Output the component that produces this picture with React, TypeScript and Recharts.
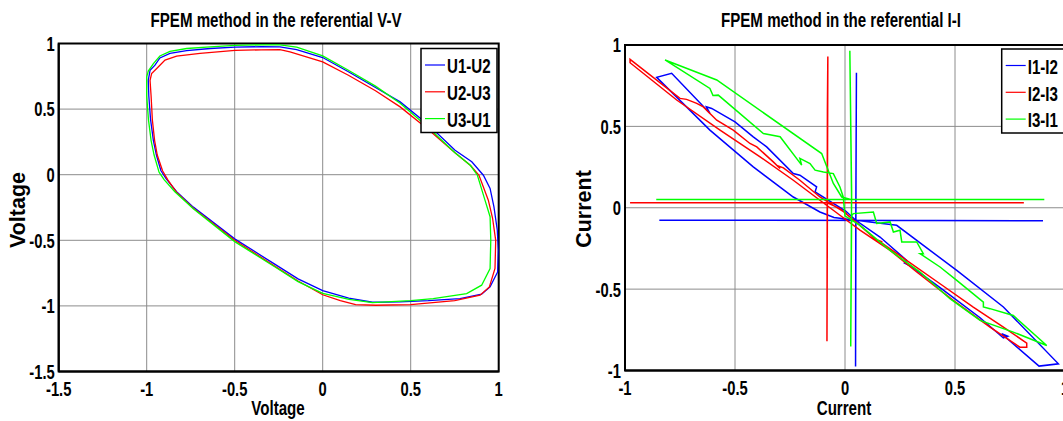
import React from 'react';
import { ScatterChart, Scatter, XAxis, YAxis, CartesianGrid, ReferenceArea } from 'recharts';

type Pt = [number, number];

// axis ticks
const vvTicks = [-1.5, -1, -0.5, 0, 0.5, 1];
const iiTicks = [-1, -0.5, 0, 0.5, 1];

// V-V plane, one closed loop per line voltage
const u1u2: Pt[] = [
  [-0.919, 0.03], [-0.945, 0.15], [-0.962, 0.26], [-0.978, 0.42], [-0.988, 0.6], [-0.991, 0.72],
  [-0.981, 0.796], [-0.953, 0.835], [-0.925, 0.89], [-0.868, 0.925], [-0.773, 0.946], [-0.64, 0.962],
  [-0.498, 0.972], [-0.35, 0.976], [-0.243, 0.974], [-0.148, 0.953], [0, 0.893], [0.146, 0.785],
  [0.3, 0.665], [0.44, 0.555], [0.6, 0.38], [0.752, 0.187], [0.847, 0.098], [0.913, -0.004],
  [0.951, -0.105], [0.973, -0.245], [0.992, -0.423], [0.998, -0.575], [0.994, -0.741], [0.951, -0.855],
  [0.903, -0.911], [0.78, -0.944], [0.6, -0.96], [0.44, -0.969], [0.283, -0.972], [0.148, -0.94],
  [0, -0.883], [-0.14, -0.794], [-0.275, -0.68], [-0.5, -0.489], [-0.735, -0.247], [-0.83, -0.13],
  [-0.89, -0.03], [-0.919, 0.03],
];

const u2u3: Pt[] = [
  [-0.91, 0.03], [-0.94, 0.15], [-0.955, 0.26], [-0.968, 0.42], [-0.975, 0.6], [-0.981, 0.72],
  [-0.972, 0.771], [-0.943, 0.809], [-0.896, 0.873], [-0.83, 0.903], [-0.697, 0.924], [-0.498, 0.947],
  [-0.35, 0.952], [-0.243, 0.953], [-0.186, 0.936], [0, 0.86], [0.146, 0.758], [0.3, 0.64],
  [0.44, 0.517], [0.6, 0.345], [0.75, 0.17], [0.84, 0.07], [0.888, -0.004], [0.941, -0.194],
  [0.965, -0.33], [0.983, -0.5], [0.979, -0.715], [0.947, -0.855], [0.894, -0.918], [0.75, -0.96],
  [0.5, -0.99], [0.3, -0.995], [0.187, -0.99], [0.1, -0.96], [0, -0.915], [-0.14, -0.81],
  [-0.275, -0.695], [-0.5, -0.5], [-0.735, -0.255], [-0.83, -0.135], [-0.88, -0.04], [-0.91, 0.03],
];

const u3u1: Pt[] = [
  [-0.93, 0.02], [-0.958, 0.15], [-0.975, 0.26], [-0.99, 0.42], [-1.0, 0.6], [-1.0, 0.745],
  [-0.991, 0.79], [-0.962, 0.847], [-0.925, 0.905], [-0.868, 0.94], [-0.773, 0.962], [-0.64, 0.975],
  [-0.498, 0.985], [-0.35, 0.99], [-0.243, 0.99], [-0.148, 0.972], [0, 0.906], [0.146, 0.796],
  [0.3, 0.675], [0.44, 0.545], [0.6, 0.36], [0.75, 0.17], [0.84, 0.07], [0.879, -0.004],
  [0.922, -0.194], [0.951, -0.32], [0.955, -0.5], [0.951, -0.715], [0.903, -0.842], [0.818, -0.906],
  [0.628, -0.944], [0.5, -0.96], [0.283, -0.975], [0.15, -0.95], [0, -0.905], [-0.14, -0.815],
  [-0.275, -0.7], [-0.5, -0.51], [-0.735, -0.26], [-0.84, -0.13], [-0.9, -0.04], [-0.93, 0.02],
];

// I-I plane
const i1i2: Pt[] = [
  [-0.844, -0.077], [0.3, -0.078], [0.9, -0.08], [0.049, -0.077],
  [0.052, 0.83], [0.05, 0.2], [0.048, -0.975], [0.049, -0.077],
  [0.235, -0.108], [0.508, -0.385], [0.72, -0.61], [0.97, -0.959], [0.882, -0.973], [0.712, -0.774],
  [0.74, -0.79], [0.72, -0.8], [0.614, -0.676], [0.432, -0.491], [0.3, -0.36], [0.27, -0.34],
  [0.28, -0.323], [0.159, -0.18], [0.049, -0.077],
  [0.003, -0.02], [-0.136, 0.097], [-0.129, 0.128], [-0.205, 0.2], [-0.235, 0.21], [-0.356, 0.374],
  [-0.417, 0.436], [-0.5, 0.528], [-0.606, 0.61], [-0.63, 0.62], [-0.614, 0.58], [-0.788, 0.826],
  [-0.856, 0.801], [-0.614, 0.477], [-0.417, 0.251], [-0.235, 0.066], [-0.114, -0.026],
  [-0.05, -0.06], [0.049, -0.077],
];

const i2i3: Pt[] = [
  [-0.977, 0.03], [0.813, 0.03], [-0.08, 0.03],
  [-0.078, 0.93], [-0.08, 0.6], [-0.082, -0.82], [-0.08, 0.03],
  [-0.023, -0.005], [0.068, -0.108], [0.144, -0.2], [0.17, -0.21], [0.15, -0.2], [0.28, -0.323],
  [0.432, -0.467], [0.583, -0.61], [0.72, -0.733], [0.826, -0.832], [0.826, -0.857], [0.795, -0.857],
  [0.659, -0.733], [0.492, -0.569], [0.326, -0.395], [0.205, -0.262], [0.068, -0.138], [-0.023, -0.046],
  [-0.114, 0.046], [-0.235, 0.169], [-0.386, 0.313], [-0.568, 0.477], [-0.765, 0.662], [-0.977, 0.891],
  [-0.977, 0.912], [-0.75, 0.672], [-0.72, 0.666], [-0.674, 0.641], [-0.644, 0.62], [-0.583, 0.538],
  [-0.508, 0.477], [-0.432, 0.395], [-0.401, 0.374], [-0.326, 0.282], [-0.295, 0.241], [-0.31, 0.26],
  [-0.28, 0.245], [-0.205, 0.169], [-0.114, 0.066], [-0.053, 0.015], [0.008, -0.036],
];

const i3i1: Pt[] = [
  [-0.858, 0.05], [0.906, 0.05], [0.03, 0.05],
  [0.022, 0.965], [0.03, 0.1], [0.026, -0.852], [0.03, -0.05],
  [0.038, -0.036], [0.129, -0.026], [0.144, -0.097], [0.205, -0.087], [0.22, -0.149], [0.25, -0.138],
  [0.258, -0.21], [0.326, -0.21], [0.356, -0.282], [0.341, -0.282], [0.432, -0.364], [0.508, -0.446],
  [0.629, -0.58], [0.629, -0.61], [0.659, -0.62], [0.765, -0.662], [0.917, -0.846],
  [0.765, -0.764], [0.614, -0.692], [0.477, -0.559], [0.341, -0.395], [0.205, -0.262], [0.068, -0.108],
  [0.0, -0.05], [-0.008, 0.066], [-0.023, 0.128], [-0.053, 0.21], [-0.098, 0.22], [-0.136, 0.231],
  [-0.159, 0.272], [-0.174, 0.282], [-0.205, 0.303], [-0.197, 0.262], [-0.295, 0.436], [-0.371, 0.456],
  [-0.576, 0.692], [-0.6, 0.69], [-0.614, 0.733], [-0.818, 0.908],
  [-0.583, 0.785], [-0.106, 0.333], [-0.053, 0.149], [-0.015, 0.066], [0.03, 0.05],
];

const BLUE = '#0000ff';
const RED = '#ff0000';
const GREEN = '#00ff00';

const vvSeries = [
  { name: 'U1-U2', color: BLUE, points: u1u2 },
  { name: 'U2-U3', color: RED, points: u2u3 },
  { name: 'U3-U1', color: GREEN, points: u3u1 },
];

const iiSeries = [
  { name: 'I1-I2', color: BLUE, points: i1i2 },
  { name: 'I2-I3', color: RED, points: i2i3 },
  { name: 'I3-I1', color: GREEN, points: i3i1 },
];

const FONT = '"Liberation Sans", Arial, Helvetica, sans-serif';
const SQUEEZE = 0.72; // the source picture is squashed sideways

const XTick = (props: any) => {
  const { x, y, payload } = props;
  return (
    <text
      transform={`translate(${x},${y}) scale(${SQUEEZE},1)`}
      textAnchor="middle"
      dy="0.71em"
      fontFamily={FONT}
      fontWeight="bold"
      fontSize={20.5}
      fill="#000"
    >
      {payload.value}
    </text>
  );
};

const YTick = (props: any) => {
  const { x, y, payload } = props;
  return (
    <text
      transform={`translate(${x},${y}) scale(${SQUEEZE},1)`}
      textAnchor="end"
      dy="0.36em"
      fontFamily={FONT}
      fontWeight="bold"
      fontSize={20.5}
      fill="#000"
    >
      {payload.value}
    </text>
  );
};

const hidden = () => <g />;

interface PanelProps {
  left: number;
  width: number;
  margin: { top: number; right: number; bottom: number; left: number };
  domain: [number, number];
  ticks: number[];
  lineWidth: number;
  series: { name: string; color: string; points: Pt[] }[];
}

const Panel = ({ left, width, margin, domain, ticks, lineWidth, series }: PanelProps) => (
  <div style={{ position: 'absolute', left, top: 0 }}>
    <ScatterChart width={width} height={421} margin={margin}>
      <CartesianGrid stroke="#8c8c8c" strokeWidth={1} />
      <XAxis
        type="number"
        dataKey="x"
        domain={domain}
        ticks={ticks}
        interval={0}
        allowDataOverflow
        tick={XTick}
        tickLine={false}
        tickSize={0}
        tickMargin={9.5}
        height={30}
        axisLine={{ stroke: '#000', strokeWidth: 2 }}
      />
      <YAxis
        type="number"
        dataKey="y"
        domain={domain}
        ticks={ticks}
        interval={0}
        allowDataOverflow
        tick={YTick}
        tickLine={false}
        tickSize={0}
        tickMargin={4}
        width={50}
        axisLine={{ stroke: '#000', strokeWidth: 2 }}
      />
      <ReferenceArea
        x1={domain[0]}
        x2={domain[1]}
        y1={domain[0]}
        y2={domain[1]}
        fill="none"
        fillOpacity={0}
        stroke="#000"
        strokeWidth={2}
      />
      {series.map((s) => (
        <Scatter
          key={s.name}
          name={s.name}
          data={s.points.map(([x, y]) => ({ x, y }))}
          fill={s.color}
          line={{ stroke: s.color, strokeWidth: lineWidth }}
          shape={hidden}
          isAnimationActive={false}
        />
      ))}
    </ScatterChart>
  </div>
);

const txt = { fontFamily: FONT, fontWeight: 'bold' as const, fill: '#000' };

const LegendBox = ({ x, y, w, series }: { x: number; y: number; w: number; series: { name: string; color: string }[] }) => (
  <g>
    <rect x={x} y={y} width={w} height={84} fill="#fff" stroke="#000" strokeWidth={1.5} />
    {series.map((s, i) => {
      const ry = y + 16.5 + i * 26.8;
      return (
        <g key={s.name}>
          <line x1={x + 4} x2={x + 24} y1={ry} y2={ry} stroke={s.color} strokeWidth={1.2} />
          <text {...txt} fontSize={21} transform={`translate(${x + 26},${ry + 8.3}) scale(${SQUEEZE},1)`}>
            {s.name}
          </text>
        </g>
      );
    })}
  </g>
);

export default function App() {
  return (
    <div style={{ position: 'absolute', left: 0, top: 0, width: 1063, height: 421, overflow: 'hidden', background: '#fff' }}>
      <Panel
        left={0}
        width={530}
        margin={{ top: 43.5, right: 31.3, bottom: 19.5, left: 8.7 }}
        domain={[-1.5, 1]}
        ticks={vvTicks}
        lineWidth={1.3}
        series={vvSeries}
      />
      <Panel
        left={530}
        width={560}
        margin={{ top: 45, right: 25, bottom: 20.5, left: 45 }}
        domain={[-1, 1]}
        ticks={iiTicks}
        lineWidth={1.5}
        series={iiSeries}
      />
      <svg width={1063} height={421} style={{ position: 'absolute', left: 0, top: 0, pointerEvents: 'none' }}>
        <text {...txt} fontSize={21} textAnchor="middle" transform={`translate(276,26.7) scale(${SQUEEZE},1)`}>
          FPEM method in the referential V-V
        </text>
        <text {...txt} fontSize={21} textAnchor="middle" transform={`translate(841,26.7) scale(${SQUEEZE},1)`}>
          FPEM method in the referential I-I
        </text>
        <text {...txt} fontSize={21} textAnchor="middle" transform={`translate(278,415) scale(${SQUEEZE},1)`}>
          Voltage
        </text>
        <text {...txt} fontSize={21} textAnchor="middle" transform={`translate(844,415) scale(${SQUEEZE},1)`}>
          Current
        </text>
        <text {...txt} fontSize={21.5} textAnchor="middle" transform="translate(25.4,210) rotate(-90)">
          Voltage
        </text>
        <text {...txt} fontSize={21.5} textAnchor="middle" transform="translate(590.5,209) rotate(-90)">
          Current
        </text>
        <LegendBox x={421} y={48.5} w={76} series={vvSeries} />
        <LegendBox x={1001.7} y={49} w={66} series={iiSeries} />
      </svg>
    </div>
  );
}
